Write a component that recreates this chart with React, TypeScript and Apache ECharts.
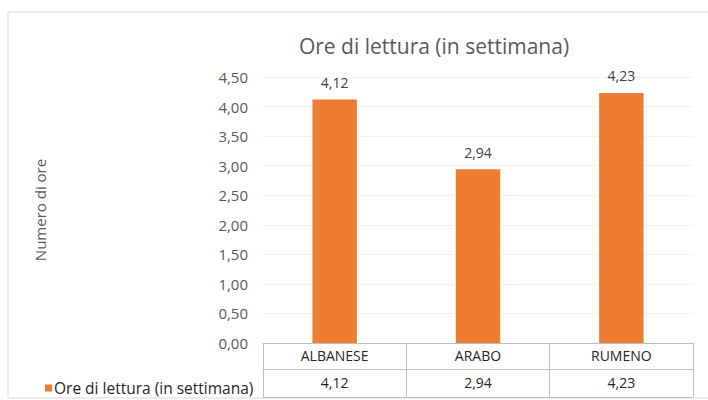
import React, { useEffect, useRef } from "react";
import * as echarts from "echarts";

const title = "Ore di lettura (in settimana)";
const seriesName = "Ore di lettura (in settimana)";
const categories = ["ALBANESE", "ARABO", "RUMENO"];
const values = [4.12, 2.94, 4.23];
const yAxisName = "Numero di ore";

const fmt = (v: number) => v.toFixed(2).replace(".", ",");

export default function App() {
  const ref = useRef<HTMLDivElement>(null);
  useEffect(() => {
    if (!ref.current) return;
    const chart = echarts.init(ref.current, undefined, { renderer: "svg" });
    const font = "'Open Sans', 'Noto Sans', sans-serif";
    const tableLine = "#bfbfbf";
    chart.setOption({
      animation: false,
      backgroundColor: "#ffffff",
      textStyle: { fontFamily: font },
      title: {
        text: title,
        left: 429,
        textAlign: "center",
        top: 30,
        textStyle: { fontSize: 21, fontWeight: "normal", color: "#595959", fontFamily: font },
      },
      legend: {
        data: [seriesName],
        left: 40,
        top: 375,
        icon: "rect",
        itemWidth: 7,
        itemHeight: 7,
        itemGap: 4,
        textStyle: { fontSize: 15.5, color: "#262626", fontFamily: font, padding: [0, 0, 0, -3] },
      },
      graphic: [
        {
          type: "rect",
          shape: { x: 8, y: 12, width: 760, height: 386 },
          style: { fill: "none", stroke: "#d9d9d9", lineWidth: 1 },
          silent: true,
        },
      ],
      grid: { left: 263, right: 15, top: 77, bottom: 57, containLabel: false },
      xAxis: [
        {
          type: "category",
          data: categories,
          position: "bottom",
          axisLine: { show: true, lineStyle: { color: tableLine } },
          axisTick: { show: true, length: 54, interval: 0, lineStyle: { color: tableLine } },
          axisLabel: { interval: 0, margin: 5, fontSize: 14, color: "#262626", fontFamily: font },
          splitLine: { show: false },
        },
        {
          type: "category",
          data: values.map(fmt),
          position: "bottom",
          offset: 26,
          axisLine: { show: true, lineStyle: { color: tableLine } },
          axisTick: { show: false },
          axisLabel: { interval: 0, margin: 6, fontSize: 14, color: "#262626", fontFamily: font },
        },
        {
          type: "category",
          data: categories,
          position: "bottom",
          offset: 54,
          axisLine: { show: true, lineStyle: { color: tableLine } },
          axisTick: { show: false },
          axisLabel: { show: false },
        },
      ],
      yAxis: {
        type: "value",
        min: 0,
        max: 4.5,
        interval: 0.5,
        name: yAxisName,
        nameLocation: "middle",
        nameRotate: 90,
        nameGap: 216,
        nameTextStyle: { fontSize: 15, color: "#595959", fontFamily: font },
        axisLine: { show: false },
        axisTick: { show: false },
        axisLabel: {
          formatter: (v: number) => fmt(v),
          fontSize: 15,
          color: "#595959",
          margin: 15,
          fontFamily: font,
        },
        splitLine: { show: true, lineStyle: { color: "#f3f3f3" } },
      },
      series: [
        {
          name: seriesName,
          type: "bar",
          data: values,
          barWidth: "31%",
          itemStyle: { color: "#ED7D31" },
          label: {
            show: true,
            position: "top",
            distance: 10,
            formatter: (p: any) => fmt(p.value),
            fontSize: 14,
            color: "#404040",
            fontFamily: font,
          },
        },
      ],
    });
    return () => chart.dispose();
  }, []);
  return (
    <div
      ref={ref}
      style={{ position: "absolute", left: 0, top: 0, width: 708, height: 400 }}
    />
  );
}
